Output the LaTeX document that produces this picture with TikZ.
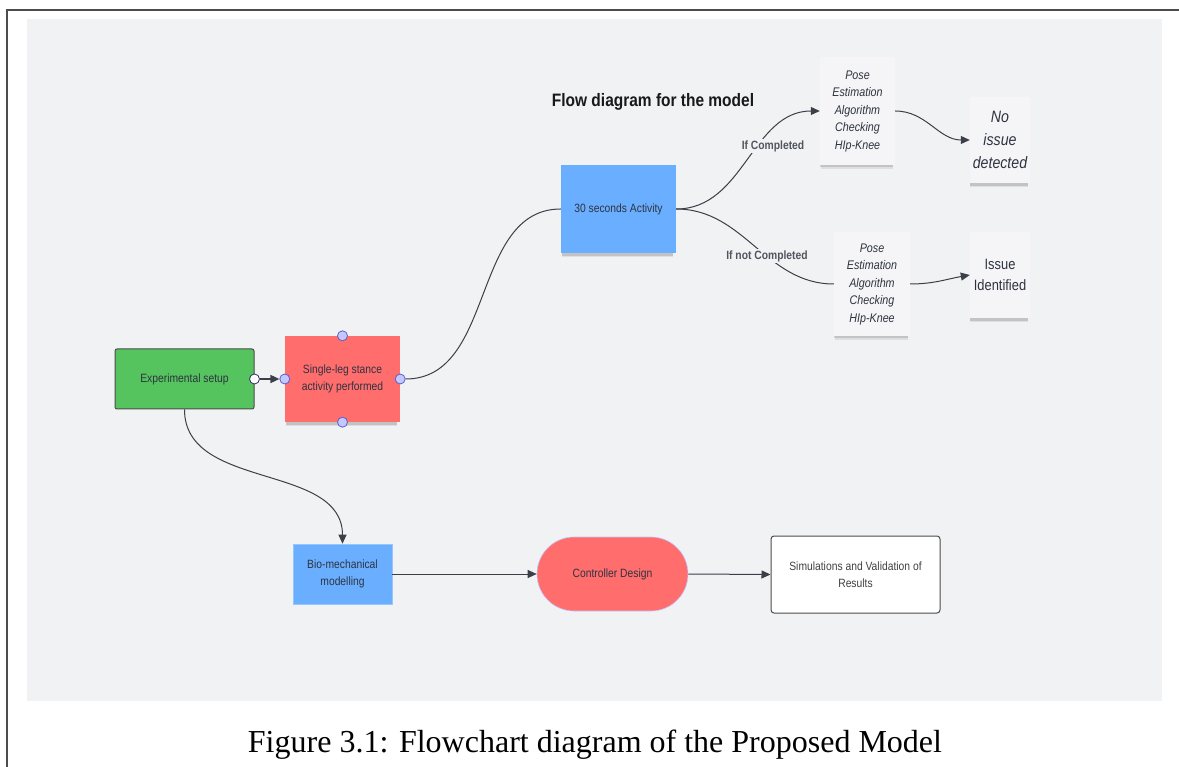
\documentclass[tikz,border=0pt]{standalone}
\usepackage{fontspec}
\setmainfont{Liberation Serif}
\newfontfamily\flowfont[FakeStretch=0.86]{Liberation Sans}
\usetikzlibrary{arrows.meta,shadows}

\definecolor{canvas}{HTML}{F1F2F4}
\definecolor{ink}{HTML}{2E3340}
\definecolor{wire}{HTML}{3A3F48}
\definecolor{setupgreen}{HTML}{55C35E}
\definecolor{stickyred}{HTML}{FF6D6D}
\definecolor{stickyblue}{HTML}{6AAEFF}
\definecolor{notegrey}{HTML}{F5F5F7}
\definecolor{handlefill}{HTML}{C5C7FF}
\definecolor{handleedge}{HTML}{5A5FD0}
\definecolor{condgrey}{HTML}{50555E}

\tikzset{
	base/.style={align=center, inner sep=0pt, text=ink, font=\flowfont\fontsize{12}{17}\selectfont},
	sticky/.style={base,
		drop shadow={shadow xshift=-1pt, shadow yshift=-6pt, shadow scale=0.96, opacity=0.08, fill=black},
		drop shadow={shadow xshift=-1pt, shadow yshift=-4pt, shadow scale=0.97, opacity=0.12, fill=black}},
	note/.style={sticky, fill=notegrey, font=\flowfont\itshape\fontsize{12.5}{17.5}\selectfont},
	handle/.style={circle, draw=handleedge, fill=handlefill, inner sep=0pt, minimum size=10pt, line width=0.8pt},
	flow/.style={draw=wire, line width=1pt, -{Triangle[length=9pt,width=8pt]}},
	link/.style={draw=wire, line width=1pt},
	cond/.style={fill=canvas, text=condgrey, inner sep=1.5pt, font=\flowfont\bfseries\fontsize{12}{14}\selectfont},
}

\begin{document}
\begin{tikzpicture}[x=1pt,y=1pt]
	\useasboundingbox (0,0) rectangle (1179,-767);
	\fill[canvas] (27,-19) rectangle (1162,-701);
	\draw[black!70, line width=1.5pt] (7,-767) -- (7,-10) -- (1179,-10);

	\node[font=\flowfont\bfseries\fontsize{18}{20}\selectfont, text=black!90] (title) at (653,-102) {Flow diagram for the model};

	\node[base, rounded corners=2pt, draw=black!70, line width=1pt, fill=setupgreen, minimum width=139pt, minimum height=60pt] (setup) at (184.5,-379) {Experimental setup};
	\node[sticky, fill=stickyred, minimum width=115pt, minimum height=86pt] (leg) at (342.5,-379) {Single-leg stance\\activity performed};
	\node[sticky, fill=stickyblue, minimum width=115pt, minimum height=88pt] (activity) at (618.5,-209) {30 seconds Activity};

	\node[note, minimum width=75pt, minimum height=108pt] (pose1) at (857.5,-111) {Pose\\Estimation\\Algorithm\\Checking\\HIp-Knee};
	\node[note, minimum width=76pt, minimum height=104pt] (pose2) at (872,-284) {Pose\\Estimation\\Algorithm\\Checking\\HIp-Knee};
	\node[note, minimum width=60pt, minimum height=86pt, font=\flowfont\itshape\fontsize{16.5}{23}\selectfont] (clear) at (1000,-140) {No\\issue\\detected};
	\node[note, minimum width=60pt, minimum height=86pt, font=\flowfont\fontsize{15}{21}\selectfont] (issue) at (1000,-275) {Issue\\Identified};

	\node[base, fill=stickyblue, draw=stickyblue!70!white, line width=0.6pt, minimum width=99pt, minimum height=60pt] (bio) at (342.5,-574) {Bio-mechanical\\modelling};
	\node[base, fill=stickyred, draw=handlefill, line width=0.6pt, rounded corners=37pt, minimum width=151pt, minimum height=74pt] (controller) at (612.5,-574) {Controller Design};
	\node[base, fill=white, draw=black!70, line width=1pt, rounded corners=3pt, text=black!75, minimum width=169pt, minimum height=77pt] (results) at (855.5,-574.5) {Simulations and Validation of\\Results};

	\node[handle, fill=white, draw=handleedge!50!black] (setupout) at (setup.east) {};
	\node[handle] (legin) at (leg.west) {};
	\node[handle] (legout) at (leg.east) {};
	\node[handle] (legtop) at (leg.north) {};
	\node[handle] (legbottom) at (leg.south) {};

	\draw[flow, line width=1.6pt] (setupout) -- (legin);
	\draw[link] (legout) to[out=0, in=180] (activity.west);
	\draw[flow] (activity.east) to[out=0, in=180] (pose1.west);
	\draw[link] (activity.east) to[out=0, in=180] (pose2.west);
	\node[cond] (ifdone) at (773,-146) {If Completed};
	\node[cond] (ifnotdone) at (767,-256) {If not Completed};
	\draw[flow] (pose1.east) to[out=0, in=180] (clear.west);
	\draw[flow] (pose2.east) to[out=0, in=190] (issue.west);
	\draw[flow] (setup.south) to[out=-90, in=90] (bio.north);
	\draw[flow] (bio.east) -- (controller.west);
	\draw[flow] (controller.east) -- (results.west);

	\node[font=\fontsize{32}{36}\selectfont] (caption) at (595,-745) {Figure 3.1: Flowchart diagram of the Proposed Model};
\end{tikzpicture}
\end{document}
